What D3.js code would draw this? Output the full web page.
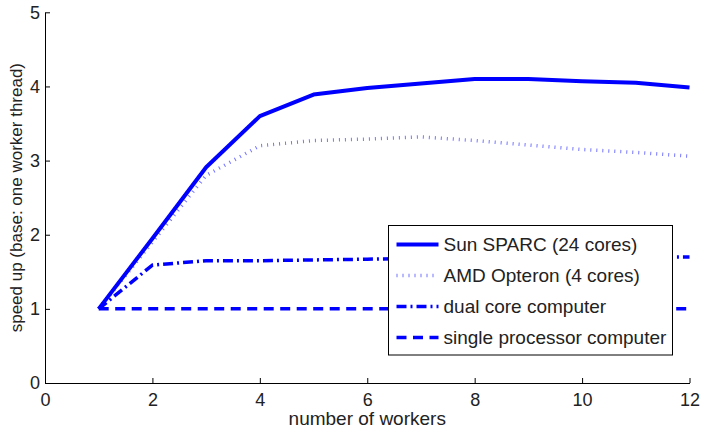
<!DOCTYPE html>
<html>
<head>
<meta charset="utf-8">
<script src="https://cdn.jsdelivr.net/npm/d3@7"></script>
<style>
  body { margin: 0; background: #fff; }
  svg { font-family: "Liberation Sans", Arial, sans-serif; }
</style>
</head>
<body>
<div id="chart"></div>
<script>
const workers = [1, 2, 3, 4, 5, 6, 7, 8, 9, 10, 11, 12];
const sunSparc = [1, 1.95, 2.91, 3.6, 3.89, 3.98, 4.04, 4.1, 4.1, 4.07, 4.05, 3.985];
const amdOpteron = [1, 1.9, 2.8, 3.2, 3.27, 3.29, 3.32, 3.27, 3.21, 3.15, 3.11, 3.06];
const dualCore = [1, 1.59, 1.65, 1.65, 1.66, 1.67, 1.68, 1.68, 1.69, 1.69, 1.7, 1.7];
const singleProc = [1, 1, 1, 1, 1, 1, 1, 1, 1, 1, 1, 1];
const xTicks = [0, 2, 4, 6, 8, 10, 12];
const yTicks = [0, 1, 2, 3, 4, 5];

const width = 701, height = 432;
const margin = { top: 12.3, right: 11.5, bottom: 49, left: 45 };

const series = [
    { name: "Sun SPARC (24 cores)", values: sunSparc, width: 4, dash: null, opacity: 1 },
    { name: "AMD Opteron (4 cores)", values: amdOpteron, width: 3.5, dash: "1 5", opacity: 0.55 },
    { name: "dual core computer", values: dualCore, width: 3.5, dash: "10 4 2 4", opacity: 1 },
    { name: "single processor computer", values: singleProc, width: 3.5, dash: "10 6.5", opacity: 1 }
];

const svg = d3.select('#chart')
    .append('svg')
    .attr('width', width)
    .attr('height', height);

const x = d3.scaleLinear().domain([0, 12]).range([margin.left, width - margin.right]);
const y = d3.scaleLinear().domain([0, 5]).range([height - margin.bottom, margin.top]);

// Axes with inward ticks (matlab style)
const xAxis = svg.append('g')
    .attr('transform', `translate(0,${y(0)})`)
    .call(d3.axisBottom(x).tickValues(xTicks).tickFormat(d3.format('d'))
        .tickSize(-5).tickSizeOuter(0).tickPadding(10));
const yAxis = svg.append('g')
    .attr('transform', `translate(${x(0)},0)`)
    .call(d3.axisLeft(y).tickValues(yTicks).tickFormat(d3.format('d'))
        .tickSize(-5).tickSizeOuter(0).tickPadding(5));

[xAxis, yAxis].forEach(a => {
    a.selectAll('text').style('font-size', '18px').attr('fill', '#222');
    a.select('.domain').attr('stroke', '#000');
    a.selectAll('line').attr('stroke', '#000');
});

// Lines
const line = d3.line()
    .x((d, i) => x(workers[i]))
    .y(d => y(d));

svg.selectAll('.series')
    .data(series.slice().reverse())
    .join('path')
    .attr('class', 'series')
    .attr('d', d => line(d.values))
    .attr('fill', 'none')
    .attr('stroke', '#0000ff')
    .attr('stroke-opacity', d => d.opacity)
    .attr('stroke-width', d => d.width)
    .attr('stroke-dasharray', d => d.dash)
    .attr('stroke-linejoin', 'round');

// Axis labels
svg.append('text')
    .attr('x', (x(0) + x(12)) / 2)
    .attr('y', 425)
    .attr('text-anchor', 'middle')
    .attr('fill', '#222')
    .style('font-size', '19px')
    .text('number of workers');

svg.append('text')
    .attr('transform', `translate(22,${(y(0) + y(5)) / 2}) rotate(-90)`)
    .attr('text-anchor', 'middle')
    .attr('fill', '#222')
    .style('font-size', '17px')
    .text('speed up (base: one worker thread)');

// Legend
const legend = svg.append('g').attr('transform', 'translate(388.5,225.5)');
legend.append('rect')
    .attr('width', 284)
    .attr('height', 129.5)
    .attr('fill', '#fff')
    .attr('stroke', '#000')
    .attr('stroke-width', 1);

const items = legend.selectAll('.item')
    .data(series)
    .join('g')
    .attr('class', 'item')
    .attr('transform', (d, i) => `translate(0,${19 + i * 31})`);

items.append('line')
    .attr('x1', 8)
    .attr('x2', 50)
    .attr('stroke', '#0000ff')
    .attr('stroke-opacity', d => d.opacity)
    .attr('stroke-width', d => d.width)
    .attr('stroke-dasharray', d => d.dash);

items.append('text')
    .attr('x', 55)
    .attr('dy', '0.35em')
    .attr('fill', '#222')
    .style('font-size', '19px')
    .text(d => d.name);
</script>
</body>
</html>
